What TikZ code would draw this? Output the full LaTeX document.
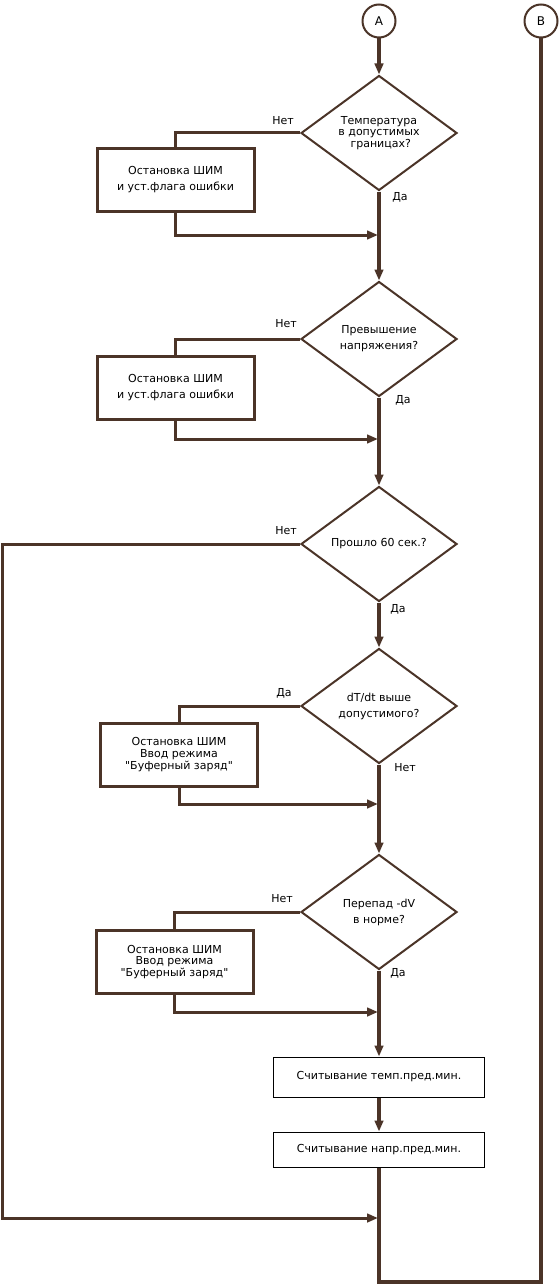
\documentclass[tikz,border=0pt]{standalone}
\usepackage{fontspec}
\setmainfont{DejaVu Sans}[Ligatures=TeXOff]
\usetikzlibrary{shapes.geometric,arrows.meta}
\definecolor{ln}{RGB}{75,52,40}
\begin{document}
\begin{tikzpicture}[x=1pt,y=-1pt,
  txt/.style={font=\fontsize{11}{16}\selectfont, text=black},
  dec/.style={diamond, draw=ln, line width=2pt, inner sep=0pt, minimum width=156pt, minimum height=115pt, align=center, txt},
  act/.style={rectangle, draw=ln, line width=3pt, inner sep=0pt, minimum width=157pt, minimum height=63pt, align=center, txt},
  rd/.style={rectangle, draw=black, line width=1pt, inner sep=0pt, minimum width=211pt, align=center, txt},
  conn/.style={circle, draw=ln, line width=2pt, minimum size=33pt, inner sep=0pt, font=\fontsize{12}{14}\selectfont, text=black},
  flow/.style={draw=ln, line width=3.3pt},
  arr/.style={flow, -{Triangle[length=11pt,width=8.5pt]}},
  side/.style={draw=ln, line width=3pt},
  sarr/.style={side, -{Triangle[length=11pt,width=8.5pt]}},
  lbl/.style={txt, inner sep=0pt}]
\useasboundingbox[fill=white] (0,0) rectangle (559,1287);

% connectors
\node[conn] (A) at (379,21) {A};
\node[conn] (B) at (541,21) {B};

% decisions
\node[dec, font=\fontsize{11}{11.5}\selectfont] (D1) at (379,133) {Температура\\в допустимых\\\ границах?};
\node[dec] (D2) at (379,339) {Превышение\\напряжения?};
\node[dec] (D3) at (379,544) {Прошло 60 сек.?};
\node[dec] (D4) at (379,706) {dT/dt выше\\допустимого?};
\node[dec] (D5) at (379,912) {Перепад -dV\\в норме?};

% actions
\node[act] (B1) at (175.5,180) {Остановка ШИМ\\и уст.флага ошибки};
\node[act] (B2) at (175.5,388) {Остановка ШИМ\\и уст.флага ошибки};
\node[act, font=\fontsize{11}{12}\selectfont] (B4) at (179,754.5) {Остановка ШИМ\\Ввод режима\\"Буферный заряд"};
\node[act, font=\fontsize{11}{11.5}\selectfont] (B5) at (174.5,962) {Остановка ШИМ\\Ввод режима\\"Буферный заряд"};
\node[rd, minimum height=40pt] (B6) at (379,1077) {Считывание темп.пред.мин.};
\node[rd, minimum height=35pt] (B7) at (379,1149.5) {Считывание напр.пред.мин.};

% labels
\node[lbl] (N1) at (283,121) {Нет};
\node[lbl] (Y1) at (400,197) {Да};
\node[lbl] (N2) at (286,324) {Нет};
\node[lbl] (Y2) at (403,400) {Да};
\node[lbl] (N3) at (286,531) {Нет};
\node[lbl] (Y3) at (398,609) {Да};
\node[lbl] (Y4) at (284,693) {Да};
\node[lbl] (N4) at (405,768) {Нет};
\node[lbl] (N5) at (282,899) {Нет};
\node[lbl] (Y5) at (398,973) {Да};

% junction points
\coordinate (j1) at (378,235);
\coordinate (j2) at (378,439);
\coordinate (j4) at (378,804);
\coordinate (j5) at (378,1012);
\coordinate (j3) at (378,1218);
\coordinate (lft) at (2,1218);
\coordinate (bot) at (379,1282);

% main flow
\draw[arr] (A) -- (D1.north);
\draw[arr] (D1.south) -- (D2.north);
\draw[arr] (D2.south) -- (D3.north);
\draw[arr] (D3.south) -- (D4.north);
\draw[arr] (D4.south) -- (D5.north);
\draw[arr] (D5.south) -- (B6.north);
\draw[arr] (B6.south) -- (B7.north);
\draw[flow] (B7.south) -- (bot) -- (B.south |- bot) -- (B.south);

% side branches
\draw[side] (D1.west) -| (B1.north);
\draw[sarr] (B1.south) |- (j1);
\draw[side] (D2.west) -| (B2.north);
\draw[sarr] (B2.south) |- (j2);
\draw[side] (D4.west) -| (B4.north);
\draw[sarr] (B4.south) |- (j4);
\draw[side] (D5.west) -| (B5.north);
\draw[sarr] (B5.south) |- (j5);
\draw[sarr] (D3.west) -| (lft) -- (j3);
\end{tikzpicture}
\end{document}
